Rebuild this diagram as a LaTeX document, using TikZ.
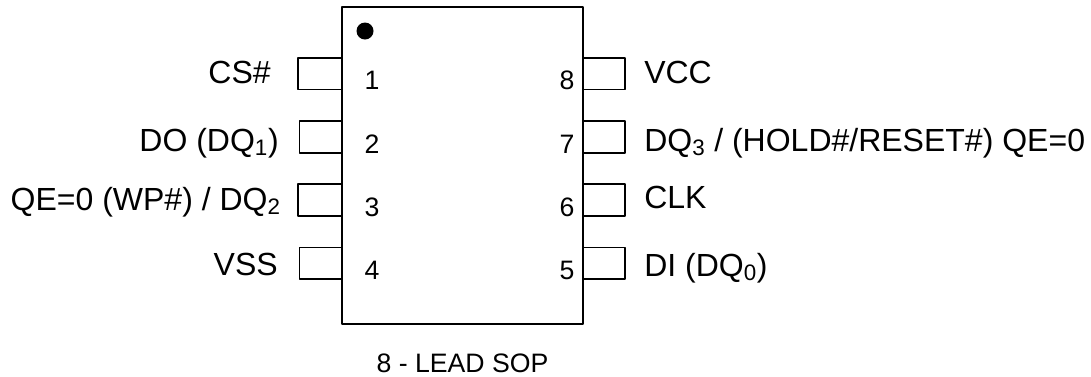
\documentclass[tikz,border=0pt]{standalone}
\usepackage{fontspec}
\setmainfont{Liberation Sans}
\tikzset{
  pinbox/.style={line width=1.4pt},
  pinlabel/.style={font=\fontsize{24}{28}\selectfont, inner sep=0pt},
  pinnum/.style={font=\fontsize{20}{24}\selectfont, inner sep=0pt, anchor=base}
}
\begin{document}
\begin{tikzpicture}[x=0.75pt, y=-0.75pt, line join = round]
\useasboundingbox (0,0) rectangle (1091,376);
\coordinate (NW) at (342,7);
\coordinate (SE) at (583,324);

\draw[pinbox] (NW) rectangle (SE);
\fill (365,31) circle (8.5);

% left pins
\foreach \n/\t/\b/\l in {1/58/89.5/298, 2/121/153/299.5, 3/184/216/298, 4/247.5/279/299.5}{
    \draw[pinbox] (342,\t) -- (\l,\t) -- (\l,\b) -- (342,\b);
    \node[pinnum] (num\n) at (372,\b) {\n};
}
% right pins
\foreach \n/\t/\b in {8/58/89.5, 7/121/153, 6/184/216, 5/247.5/279}{
    \draw[pinbox] (583,\t) -- (625,\t) -- (625,\b) -- (583,\b);
    \node[pinnum] (num\n) at (567,\b) {\n};
}

\node[pinlabel, anchor=base east] (cs) at (271,83) {CS\#};
\node[pinlabel, anchor=base east] (do) at (279,151) {DO (DQ\textsubscript{1})};
\node[pinlabel, anchor=base east] (wp) at (281,210) {QE=0 (WP\#) / DQ\textsubscript{2}};
\node[pinlabel, anchor=base east] (vss) at (278,275) {VSS};
\node[pinlabel, anchor=base west] (vcc) at (644,83) {VCC};
\node[pinlabel, anchor=base west] (hold) at (644,151) {DQ\textsubscript{3} / (HOLD\#/RESET\#) QE=0};
\node[pinlabel, anchor=base west] (clk) at (644,208) {CLK};
\node[pinlabel, anchor=base west] (di) at (644,276) {DI (DQ\textsubscript{0})};
\node[pinnum] (pkg) at (462.5,372) {8 - LEAD SOP};
\end{tikzpicture}
\end{document}
